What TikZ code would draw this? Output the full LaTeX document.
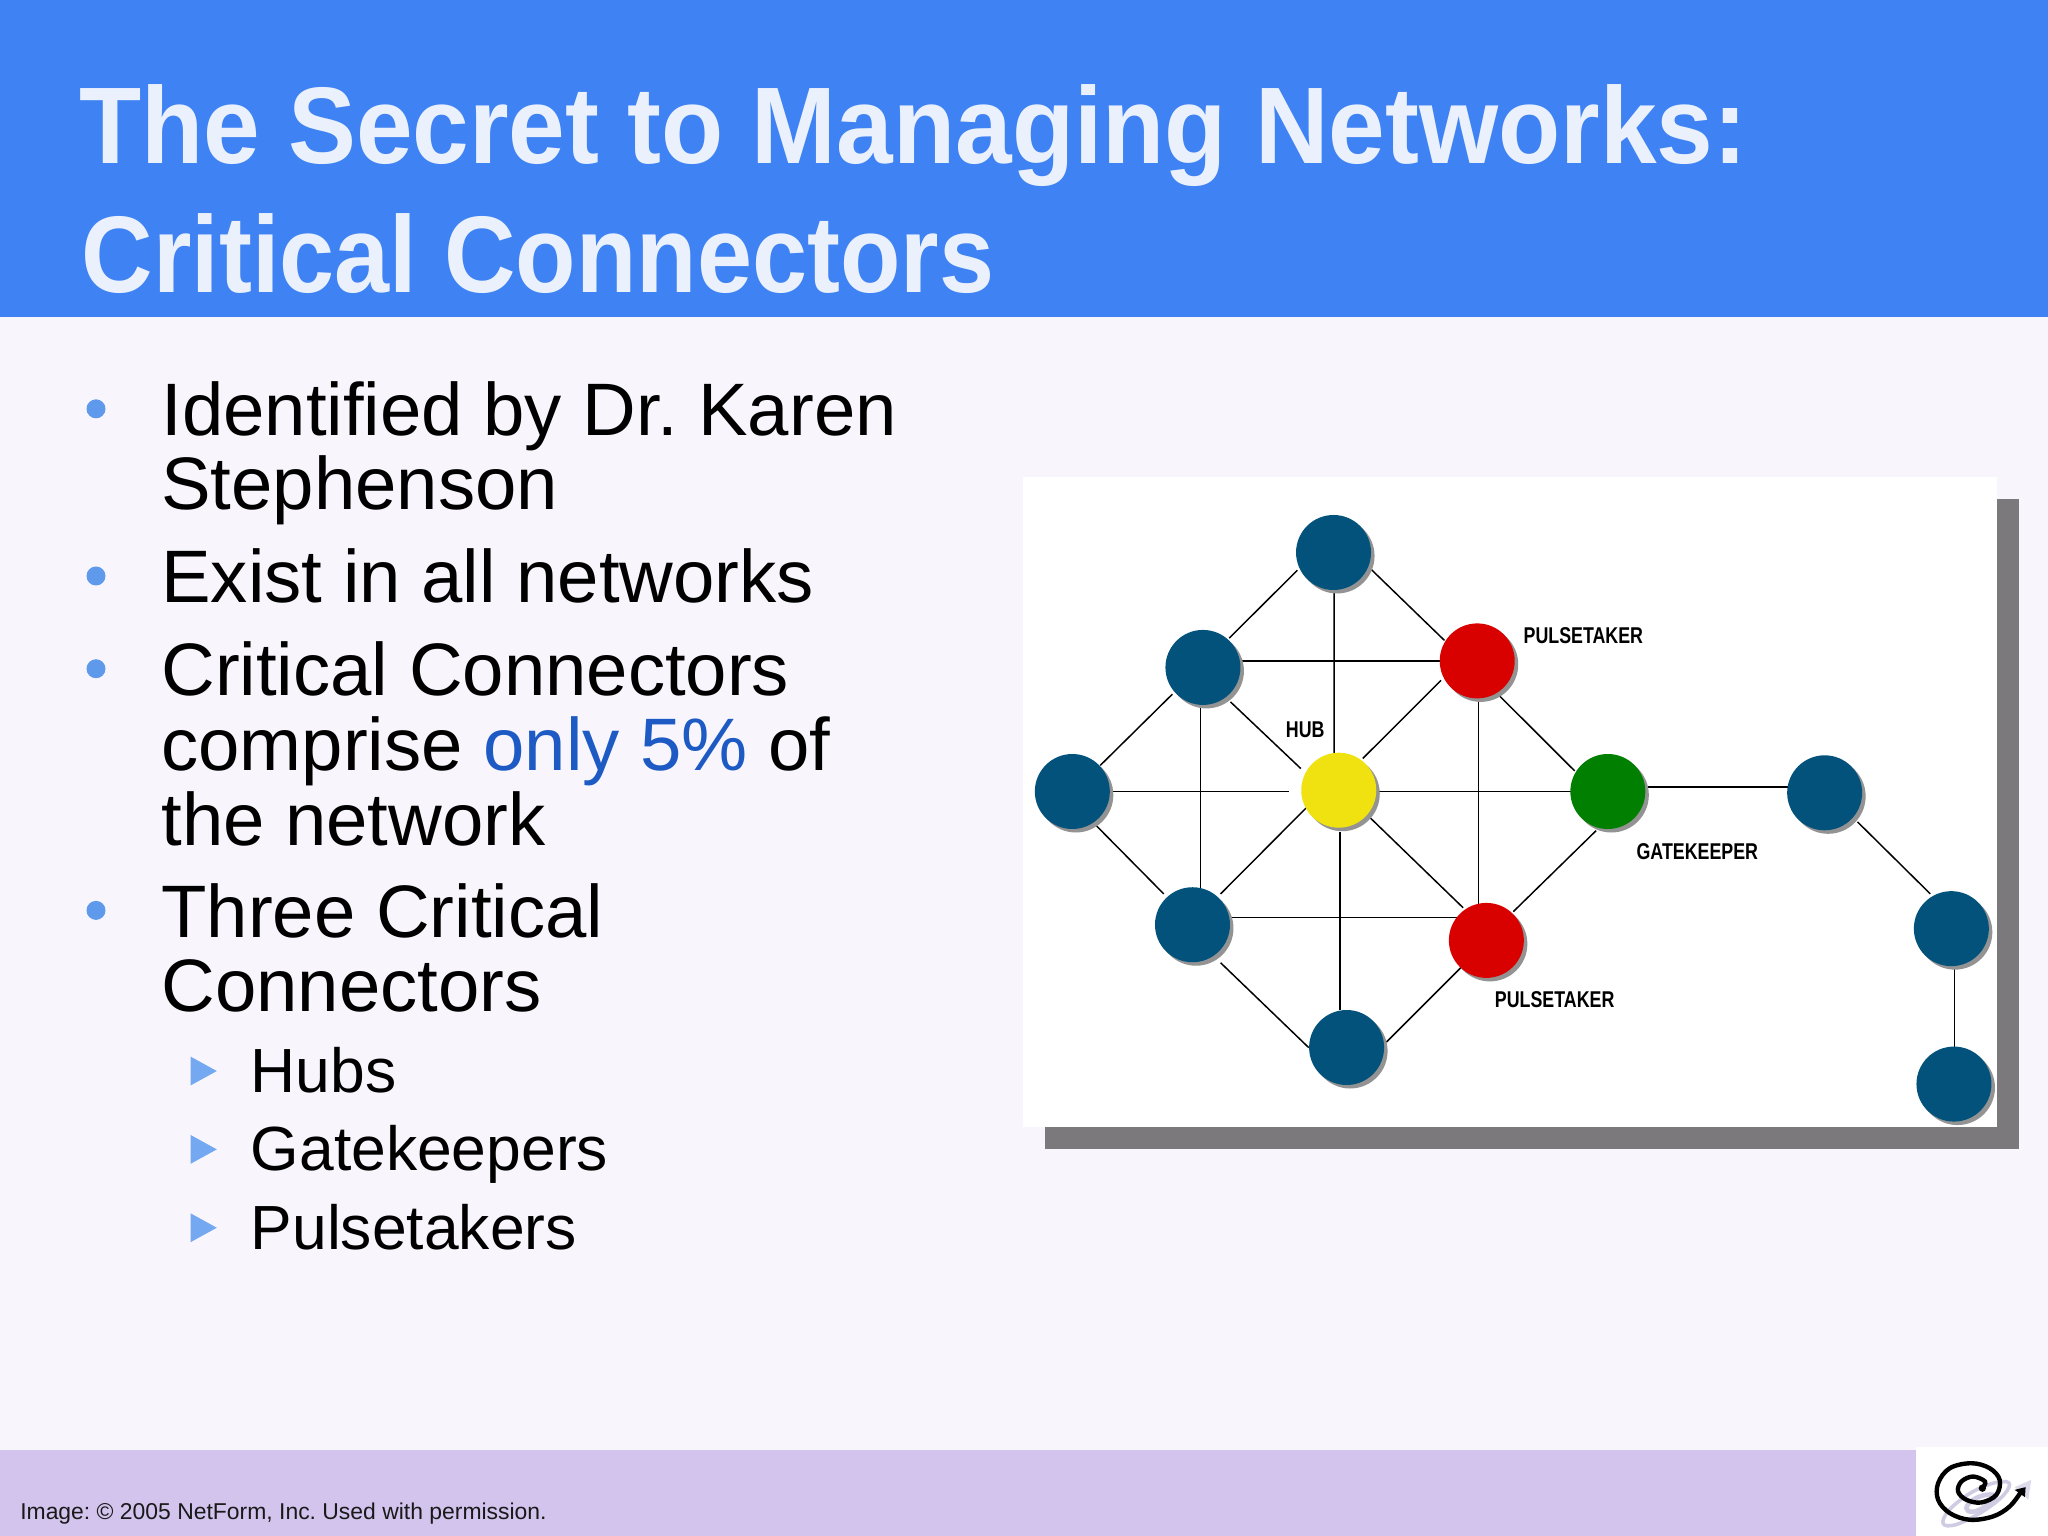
\documentclass[tikz,border=0pt]{standalone}
\usepackage{fontspec}
\setmainfont{Liberation Sans}
\newfontfamily\titlefont[FakeStretch=0.934]{Liberation Sans}
\newfontfamily\titlefontb[FakeStretch=0.908]{Liberation Sans}
\newfontfamily\labfont[FakeStretch=0.78]{Liberation Sans}
\usetikzlibrary{shadows}
\pgfdeclarelayer{panel}
\pgfdeclarelayer{edge}
\pgfsetlayers{panel,edge,main}
\definecolor{bgc}{HTML}{F8F6FC}
\definecolor{headc}{HTML}{3F82F3}
\definecolor{footc}{HTML}{D3C4EE}
\definecolor{shadc}{HTML}{7B797C}
\definecolor{teal}{HTML}{03527B}
\definecolor{redn}{HTML}{D90000}
\definecolor{yeln}{HTML}{F0E210}
\definecolor{grnn}{HTML}{007F00}
\definecolor{bul}{HTML}{5F99EC}
\definecolor{subbul}{HTML}{74A8F0}
\definecolor{hilite}{HTML}{1D5AC4}
\definecolor{titlec}{HTML}{EAF1FD}
\definecolor{logoshade}{HTML}{CFCBE2}
\tikzset{
  x=0.0130612cm, y=-0.0130612cm,
  net/.style={circle, minimum size=0.75cm, inner sep=0pt, fill=#1,
    general shadow={fill=gray!85, shadow xshift=0.035cm, shadow yshift=-0.035cm}},
  link/.style={draw=black, line width=0.42pt},
  ttl/.style={anchor=base west, inner sep=0pt, text=titlec},
  body/.style={anchor=base west, inner sep=0pt, text=black, font=\fontsize{21.15}{24}\selectfont},
  sub/.style={anchor=base west, inner sep=0pt, text=black, font=\fontsize{17.75}{20}\selectfont},
  lab/.style={anchor=base west, inner sep=0pt, text=black, font=\labfont\bfseries\fontsize{6.5}{7}\selectfont},
  dotb/.style={circle, fill=bul, inner sep=0pt, minimum size=0.19cm},
  trib/.style={fill=subbul},
}
\frenchspacing
\begin{document}
\begin{tikzpicture}
\useasboundingbox (0,0) rectangle (1568,1176);
\begin{pgfonlayer}{panel}
  \fill[bgc] (0,0) rectangle (1568,1176);
  \fill[headc] (0,0) rectangle (1568,243);
  \fill[footc] (0,1110) rectangle (1467,1176);
  \fill[white] (1467,1108) rectangle (1568,1176);
  \fill[shadc] (800,382) rectangle (1546,880);
  \fill[white] (783,365) rectangle (1529,863);
\end{pgfonlayer}

% title
\node[ttl, font=\titlefont\bfseries\fontsize{31}{36}\selectfont] (t1) at (60,125) {The Secret to Managing Networks:};
\node[ttl, font=\titlefontb\bfseries\fontsize{31}{36}\selectfont] (t2) at (62,224) {Critical Connectors};

% body
\node[dotb] (b1) at (73.5,313) {};
\node[body] (l1) at (123,333.3) {Identified by Dr. Karen};
\node[body] (l2) at (123,390.3) {Stephenson};
\node[dotb] (b2) at (73.5,441) {};
\node[body] (l3) at (123,461.5) {Exist in all networks};
\node[dotb] (b3) at (73.5,512) {};
\node[body] (l4) at (123,532.3) {Critical Connectors};
\node[body] (l5) at (123,590) {comprise \textcolor{hilite}{only 5\%} of};
\node[body] (l6) at (123,647) {the network};
\node[dotb] (b4) at (73.5,697) {};
\node[body] (l7) at (123,717.5) {Three Critical};
\node[body] (l8) at (123,774.5) {Connectors};
\fill[trib] (146,809) -- (166,820) -- (146,831) -- cycle;
\node[sub] (s1) at (191.5,836.5) {Hubs};
\fill[trib] (146,869) -- (166,880) -- (146,891) -- cycle;
\node[sub] (s2) at (191.5,896.5) {Gatekeepers};
\fill[trib] (146,929) -- (166,940) -- (146,951) -- cycle;
\node[sub] (s3) at (191.5,956.5) {Pulsetakers};

% footer
\node[anchor=base west, inner sep=0pt, text=black!90, font=\fontsize{6.52}{8}\selectfont] (foot) at (15,1163) {Image: \textcopyright{} 2005 NetForm, Inc. Used with permission.};

% network nodes
\node[net=teal] (top) at (1021,423) {};
\node[net=teal] (ul) at (921,511) {};
\node[net=redn] (ra) at (1131,506) {};
\node[net=teal] (left) at (821,606) {};
\node[net=yeln] (hub) at (1025,605) {};
\node[net=grnn] (gate) at (1231,606) {};
\node[net=teal] (ea) at (1397,607) {};
\node[net=teal] (ll) at (913,708) {};
\node[net=redn] (rb) at (1138,720) {};
\node[net=teal] (bot) at (1031,802) {};
\node[net=teal] (eb) at (1494,711) {};
\node[net=teal] (ec) at (1496,830) {};

\begin{pgfonlayer}{edge}
  % diagonal links, at 45 degrees, offset from the node centres
  \draw[link] ([shift={(-27.7,13.6)}]top.center) -- ([shift={(20.1,-22.4)}]ul.center);
  \draw[link] ([shift={(27.6,11.8)}]top.center) -- ([shift={(-25.1,-15.7)}]ra.center);
  \draw[link] ([shift={(-23.4,20.5)}]ul.center) -- ([shift={(21.4,-20)}]left.center);
  \draw[link] ([shift={(21.1,26.4)}]ul.center) -- ([shift={(-29.1,-16.6)}]hub.center);
  \draw[link] ([shift={(-27.7,14.9)}]ra.center) -- ([shift={(18.4,-24.3)}]hub.center);
  \draw[link] ([shift={(16.8,26.5)}]ra.center) -- ([shift={(-25.4,-15.8)}]gate.center);
  \draw[link] ([shift={(17.8,25.6)}]left.center) -- ([shift={(-22,-23.6)}]ll.center);
  \draw[link] ([shift={(-25,13.6)}]hub.center) -- ([shift={(21.5,-23.6)}]ll.center);
  \draw[link] ([shift={(23.6,20.7)}]hub.center) -- ([shift={(-17.8,-25)}]rb.center);
  \draw[link] ([shift={(-9,30)}]gate.center) -- ([shift={(20.6,-22)}]rb.center);
  \draw[link] ([shift={(21.5,29.1)}]ll.center) -- ([shift={(-29,0.1)}]bot.center);
  \draw[link] ([shift={(-19.3,20.6)}]rb.center) -- ([shift={(30.4,-4.1)}]bot.center);
  \draw[link] ([shift={(25.1,22.2)}]ea.center) -- ([shift={(-16.1,-26.6)}]eb.center);
  % orthogonal links
  \draw[link] ([shift={(0.5,0)}]top.center) -- ([shift={(-3.5,0)}]hub.center);
  \draw[link] ([shift={(-2,0)}]ul.center) -- ([shift={(6,0)}]ll.center);
  \draw[link] ([shift={(1,0)}]ra.center) -- ([shift={(-6,0)}]rb.center);
  \draw[link] ([shift={(1,32)}]hub.center) -- ([shift={(-5,-29)}]bot.center);
  \draw[link] ([shift={(0,-5)}]ul.center) -- (ra.center);
  \draw[link] ([shift={(30,0)}]left.center) -- ([shift={(-38,1)}]hub.center);
  \draw[link] ([shift={(0,1)}]hub.center) -- (gate.center);
  \draw[link] ([shift={(0,-3.5)}]gate.center) -- ([shift={(0,-4.5)}]ea.center);
  \draw[link] ([shift={(0,-5.7)}]ll.center) -- ([shift={(0,-17.7)}]rb.center);
  \draw[link] ([shift={(2.3,0)}]eb.center) -- ([shift={(0.3,0)}]ec.center);
\end{pgfonlayer}

% network labels
\node[lab] (lp1) at (1166,493) {PULSETAKER};
\node[lab] (lh) at (984,565) {HUB};
\node[lab] (lg) at (1252.5,658) {GATEKEEPER};
\node[lab] (lp2) at (1144,771) {PULSETAKER};

% logo
\begin{scope}[shift={(1378.2,1071.9)}, x=0.003333cm, y=-0.003333cm]
  \draw[line width=1pt, draw=logoshade] plot[smooth cycle, tension=0.7] coordinates {
    (432,355) (470,310) (540,265) (610,245) (628,262) (585,310) (500,362) (442,378)};
  \draw[line width=1.3pt, draw=logoshade] plot[smooth cycle, tension=0.7] coordinates {
    (500,325) (520,300) (560,285) (588,290) (560,318) (520,336)};
  \fill[logoshade!70] (645,262) -- (695,240) -- (686,300) -- cycle;
  \draw[black, line width=1.25pt, line cap=round] plot[smooth, tension=0.6] coordinates {
    (548,265) (556,245) (520,230) (485,245) (475,275) (500,300) (545,308) (590,285) (600,240)
    (570,205) (515,190) (450,205) (415,250) (415,300) (450,340) (510,360) (580,350) (630,320) (665,275)};
  \fill[black] (548,265) circle [radius=11];
  \fill[black] (645,270) -- (678,262) -- (676,292) -- cycle;
\end{scope}
\end{tikzpicture}
\end{document}
